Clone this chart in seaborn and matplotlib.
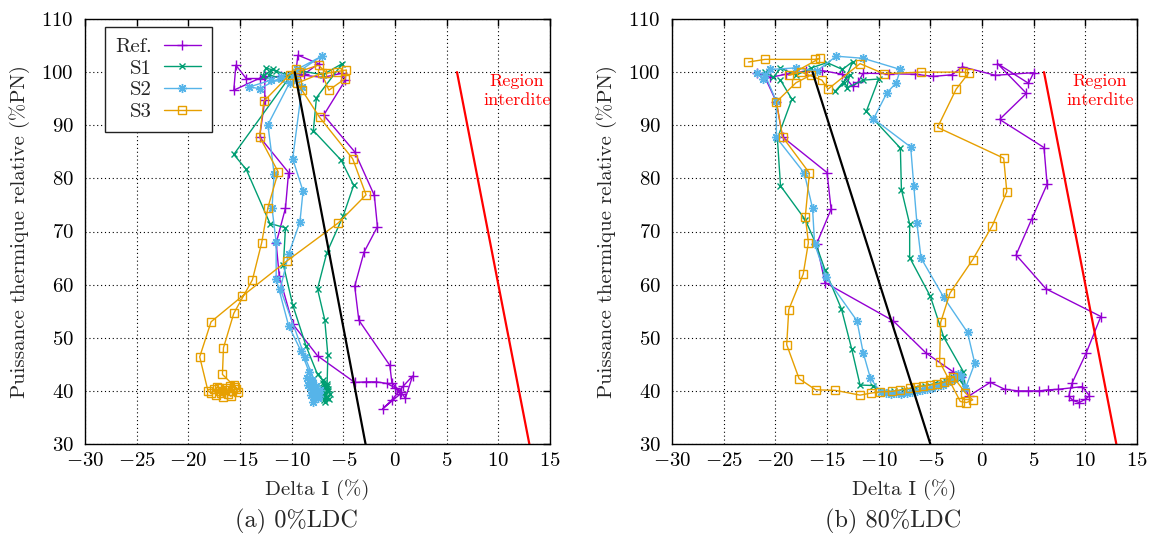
import numpy as np
import pandas as pd
import matplotlib
matplotlib.use("Agg")
import matplotlib.pyplot as plt
import seaborn as sns

# ---------------- data ----------------
series_names = ["Ref.", "S1", "S2", "S3"]
x_ticks = [-30, -25, -20, -15, -10, -5, 0, 5, 10, 15]
y_ticks = [30, 40, 50, 60, 70, 80, 90, 100, 110]
captions = ["(a) 0%LDC", "(b) 80%LDC"]

# ---- panel (a) 0%LDC ----
ref_a_x = [-9.6, -9.4, -7.4, -8.8, -11.0, -13.1, -14.4, -15.4, -15.6, -12.6, -12.6, -13.1, -10.3, -10.6,
           -11.5, -11.2, -9.9, -7.5, -3.9, -2.8, -1.8, -0.8, 0.0, 0.5, -1.2, -0.3, 0.8, 1.7, 1.0, 0.6,
           -0.3, -0.5, -3.5, -3.9, -3.0, -1.7, -2.0, -3.9, -6.9, -4.8, -5.1, -7.0, -9.2]
ref_a_y = [99.8, 103.2, 101.6, 99.6, 99.2, 98.8, 98.8, 101.3, 96.6, 99.3, 94.7, 87.8, 81.1, 74.4,
           67.8, 61.6, 52.6, 46.6, 41.6, 41.7, 41.7, 41.4, 40.6, 39.4, 36.6, 38.3, 40.9, 42.8, 38.6, 39.7,
           41.5, 44.8, 53.3, 59.7, 66.1, 70.9, 76.8, 85.0, 91.9, 98.5, 99.8, 99.0, 99.5]

s1_a_x = [-10.5, -11.5, -12.5, -12.8, -11.8, -12.2, -11.0, -10.0, -15.6, -14.4, -12.1, -10.6, -10.8,
          -9.9, -8.6, -7.5, -7.0, -6.6, -7.1, -6.5, -6.9, -6.4, -6.8, -7.2, -6.6, -6.3, -7.0, -6.7,
          -6.5, -6.9, -6.6, -6.5, -6.8, -7.5, -6.6,
          -5.0, -4.0, -5.2, -7.9, -7.6, -5.1, -7.0, -9.0]
s1_a_y = [99.5, 100.2, 100.8, 99.2, 100.6, 99.5, 98.8, 99.6, 84.5, 81.7, 71.5, 70.7, 63.7,
          56.2, 48.4, 43.1, 42.0, 41.3, 40.6, 40.0, 39.2, 38.4, 37.9, 39.6, 40.9, 39.4, 41.5, 38.8,
          40.3, 38.2, 38.7, 46.8, 53.4, 59.2, 66.0,
          73.0, 78.7, 83.4, 89.0, 95.2, 101.6, 99.5, 100.2]

s2_a_x = [-9.8, -7.1, -9.5, -11.0, -13.1, -14.1, -12.0, -10.2, -12.3, -11.7, -11.9, -11.5, -11.5,
          -10.3, -9.1, -8.3, -8.0, -8.4, -7.7, -8.1, -7.5, -7.9, -8.2, -7.6, -7.3, -8.0, -7.8,
          -8.5, -7.4, -8.0, -7.6, -8.7, -11.1, -10.3, -9.2, -8.9,
          -9.9, -9.0, -9.6]
s2_a_y = [99.5, 103.0, 100.5, 99.0, 96.9, 97.2, 98.5, 98.0, 90.1, 80.9, 74.4, 68.0, 61.1,
          52.3, 47.5, 43.5, 42.0, 41.2, 40.5, 39.3, 38.6, 38.0, 40.8, 39.6, 40.2, 41.8, 38.8,
          42.5, 39.1, 40.1, 41.0, 46.3, 59.2, 65.7, 71.8, 77.6,
          83.7, 97.2, 98.8]

s3_a_x = [-9.3, -7.4, -6.6, -5.6, -4.7, -4.8, -6.4, -7.1, -9.5, -9.0, -7.3, -4.1, -2.8, -5.5,
          -10.5, -14.8, -17.8, -18.9, -18.1, -17.8, -17.5, -17.3, -17.0, -16.8, -16.6, -16.4, -16.2,
          -16.0, -15.8, -15.6, -15.4, -15.2, -15.9, -16.5, -17.2, -16.9, -15.5,
          -16.7, -16.6, -15.6, -13.8, -12.9, -12.3, -11.3, -13.1, -12.7, -10.2, -9.6]
s3_a_y = [100.1, 101.3, 99.8, 100.1, 100.4, 98.8, 96.6, 99.8, 97.9, 96.6, 91.5, 83.7, 76.9, 71.6,
          64.4, 57.8, 53.0, 46.4, 40.0, 39.6, 40.3, 39.2, 40.5, 39.6, 38.9, 40.6, 39.4,
          40.9, 40.0, 41.2, 40.4, 39.8, 39.0, 40.1, 40.8, 39.9, 40.8,
          43.1, 48.1, 54.6, 60.9, 67.9, 74.5, 81.2, 87.8, 94.5, 99.5, 100.5]

# ---- panel (b) 80%LDC ----
ref_b_x = [-21.8, -20.5, -19.0, -17.0, -15.5, -13.5, -12.5, -12.0, -11.5, -9.0, -6.5, -4.7, -2.9,
           -1.9, 1.3, 5.0, 4.5, 1.5, 4.3, 1.7, 6.0, 6.3, 4.8, 3.3, 6.2, 11.5, 10.1, 8.7, 8.4, 8.8,
           9.4, 10.0, 10.4, 9.7, 7.4, 6.4, 5.5, 4.5, 3.5, 2.2, 0.8, -1.3, -2.0, -2.8, -5.4, -8.6,
           -15.2, -16.0, -14.6, -15.0, -19.3, -19.9, -21.0]
ref_b_y = [99.8, 99.0, 99.6, 100.2, 100.3, 99.6, 97.3, 98.1, 99.8, 99.7, 99.6, 99.2, 99.5,
           101.0, 99.4, 99.9, 97.9, 101.6, 96.0, 91.1, 85.8, 78.9, 72.3, 65.6, 59.2, 54.0, 47.2, 41.4,
           39.0, 38.2, 37.8, 38.4, 39.1, 40.8, 40.3, 40.2, 40.0, 40.0, 40.0, 40.3, 41.6, 39.0, 42.6,
           43.6, 47.1, 53.2, 60.4, 67.7, 74.2, 81.1, 87.8, 94.4, 99.0]

s1_b_x = [-21.0, -20.2, -19.5, -18.0, -16.5, -15.0, -13.5, -12.5, -13.4, -14.2, -12.8, -13.1, -11.5,
          -10.0, -11.2, -7.9, -7.8, -7.0, -7.0, -5.0, -3.7, -1.8, -1.6, -2.2, -2.8, -3.5, -4.5,
          -5.5, -6.5, -7.5, -8.5, -9.5, -10.5, -11.8, -12.6, -13.6, -15.2, -16.1, -17.1, -19.5,
          -19.8, -18.4, -19.5]
s1_b_y = [100.0, 99.0, 100.8, 99.4, 100.8, 101.8, 100.5, 102.0, 97.9, 96.4, 99.5, 97.0, 98.5,
          98.7, 92.6, 85.7, 77.9, 71.4, 65.1, 57.8, 50.1, 43.6, 40.5, 42.2, 42.6, 41.9, 41.4,
          41.0, 40.6, 40.2, 39.9, 39.8, 41.0, 41.1, 47.8, 55.4, 62.8, 67.8, 72.2, 78.6,
          87.5, 94.9, 98.5]

s2_b_x = [-21.8, -21.2, -20.5, -18.0, -16.0, -14.1, -11.5, -7.9, -8.3, -9.2, -10.5, -6.9, -6.6,
          -6.3, -5.9, -3.7, -1.4, -0.7, -1.6, -2.0, -2.3, -2.6, -2.9, -3.3, -3.8, -4.3, -4.8,
          -5.3, -5.8, -6.3, -6.8, -7.3, -7.8, -8.3, -8.8, -9.3, -9.8, -10.8, -11.5, -12.1, -15.1,
          -16.2, -16.4, -17.2, -19.9, -19.9, -21.0]
s2_b_y = [99.8, 98.8, 100.5, 100.8, 100.2, 103.0, 102.6, 100.5, 98.0, 96.1, 91.2, 85.9, 78.6,
          71.6, 65.0, 57.6, 51.0, 45.2, 40.5, 42.8, 43.2, 42.4, 42.0, 41.6, 41.2, 40.9, 40.6,
          40.3, 40.1, 39.9, 39.8, 39.6, 39.5, 39.6, 39.5, 39.6, 39.7, 42.4, 47.2, 53.2, 61.4,
          67.7, 74.4, 81.0, 87.7, 94.5, 99.5]

s3_b_x = [-22.6, -21.0, -16.2, -15.7, -18.7, -17.5, -15.5, -14.9, -11.8, -9.5, -5.9, -1.8, -1.3,
          -2.5, -4.3, 2.1, 2.4, 1.0, -0.9, -3.1, -4.0, -4.1, -2.1, -1.5, -0.9, -1.6, -2.8, -3.1,
          -3.7, -4.4, -5.0, -5.7, -6.4, -7.0, -7.9, -8.7, -9.9, -10.7, -11.8, -14.2, -16.1, -17.7,
          -18.9, -18.7, -17.3, -16.8, -17.1, -16.7, -19.3, -19.9, -18.0, -16.5]
s3_b_y = [101.9, 102.4, 102.4, 102.6, 99.4, 100.0, 98.5, 96.8, 101.6, 99.7, 100.0, 100.0, 99.8,
          96.8, 89.6, 83.8, 77.5, 71.1, 64.7, 58.4, 52.9, 45.5, 38.0, 37.8, 38.3, 39.6, 42.7, 42.1,
          41.6, 41.3, 41.1, 40.9, 40.8, 40.5, 40.2, 39.9, 39.8, 39.6, 39.2, 40.1, 40.2, 42.3,
          48.7, 55.3, 62.0, 67.9, 72.8, 81.0, 87.8, 94.4, 98.0, 99.5]

# reference boundaries (Delta I at P=100 and P=30)
black_a_x = [-9.7, -2.85]
black_b_x = [-16.4, -5.0]
red_x = [6.0, 13.0]
bound_y = [100, 30]

# ---------------- style ----------------
sns.set_style("white")
plt.rcParams["font.family"] = ["cmr10", "DejaVu Serif"]
plt.rcParams["mathtext.fontset"] = "cm"
plt.rcParams["axes.formatter.use_mathtext"] = True
plt.rcParams["axes.unicode_minus"] = True

colors = {"Ref.": "#9400D3", "S1": "#009E73", "S2": "#56B4E9", "S3": "#E69F00"}
mstyle = {"Ref.": dict(marker="+", ms=7), "S1": dict(marker="x", ms=5),
          "S2": dict(marker=(8, 2, 0), ms=6.5), "S3": dict(marker="s", ms=6)}

fig = plt.figure(figsize=(11.53, 5.43), dpi=100)
ax1 = fig.add_axes([85 / 1153, 99 / 543, 465 / 1153, 425 / 543])
ax2 = fig.add_axes([672 / 1153, 99 / 543, 465 / 1153, 425 / 543])

panels = [
    (ax1, [(ref_a_x, ref_a_y), (s1_a_x, s1_a_y), (s2_a_x, s2_a_y), (s3_a_x, s3_a_y)], black_a_x, 11.8),
    (ax2, [(ref_b_x, ref_b_y), (s1_b_x, s1_b_y), (s2_b_x, s2_b_y), (s3_b_x, s3_b_y)], black_b_x, 11.4),
]

handles = []
for k, (ax, data, bx, tx) in enumerate(panels):
    for name, (xs, ys) in zip(series_names, data):
        df = pd.DataFrame({"x": xs, "y": ys})
        c = colors[name]
        sns.lineplot(data=df, x="x", y="y", sort=False, estimator=None, ax=ax, color=c,
                     lw=1.0, mec=c, mew=1.0, mfc="none", legend=False, **mstyle[name])
        if k == 0:
            handles.append(ax.lines[-1])
    bdf = pd.DataFrame({"x": bx, "y": bound_y})
    sns.lineplot(data=bdf, x="x", y="y", sort=False, estimator=None, ax=ax, color="black", lw=1.6, legend=False)
    rdf = pd.DataFrame({"x": red_x, "y": bound_y})
    sns.lineplot(data=rdf, x="x", y="y", sort=False, estimator=None, ax=ax, color="#ff0000", lw=1.6, legend=False)
    ax.text(tx, 96.4, "Region\ninterdite", color="#ff0000", fontsize=13, ha="center", va="center",
            linespacing=1.3)

    ax.set_xlim(-30, 15)
    ax.set_ylim(30, 110)
    ax.set_xticks(x_ticks)
    ax.set_yticks(y_ticks)
    ax.set_axisbelow(True)
    ax.grid(True, color="black", linestyle=(0, (1, 2.5)), lw=0.8)
    ax.tick_params(direction="in", length=5, width=1, top=True, right=True,
                   labelsize=15, colors="black")
    ax.tick_params(axis="x", pad=6)
    ax.tick_params(axis="y", pad=8)
    for s in ax.spines.values():
        s.set_color("black")
        s.set_linewidth(1.0)
    ax.set_xlabel("Delta I (%)", fontsize=15)
    ax.set_ylabel("Puissance thermique relative (%PN)", fontsize=15)
    ax.xaxis.label.set_va("center")
    ax.yaxis.label.set_va("center")
    ax.xaxis.set_label_coords(0.5, -0.108)
    ax.yaxis.set_label_coords(-0.14, 0.5)

leg = ax1.legend(handles, series_names, loc="upper left", bbox_to_anchor=(20 / 465, 1 - 8 / 425),
                 borderaxespad=0, markerfirst=False, fontsize=15, handlelength=1.8,
                 handletextpad=0.55, labelspacing=0.15, borderpad=0.5, fancybox=False,
                 framealpha=1, edgecolor="#222222")
leg.get_frame().set_linewidth(1.0)

fig.text(296 / 1153, 1 - 521 / 543, captions[0], fontsize=17.5, ha="center", va="center")
fig.text(893 / 1153, 1 - 521 / 543, captions[1], fontsize=17.5, ha="center", va="center")

fig.savefig("out.png", dpi=100)
